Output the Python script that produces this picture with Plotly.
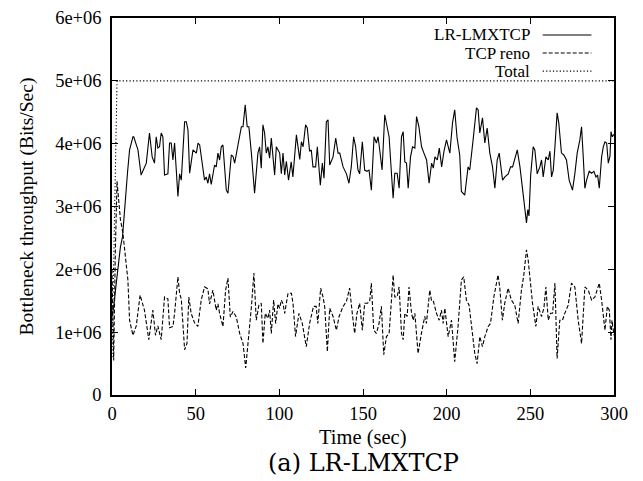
import plotly.graph_objects as go

# ---- data (throughput in units of 1e6 bits/sec) ----
lr_time = [0, 1, 2, 3, 4, 5, 6.3, 7.7, 8.4, 9.3, 10.5, 12.5, 13, 14.8, 15.5, 17.4, 19.4, 20.5, 22.4, 24,
           25.4, 26.4, 27.4, 28.4, 29.4, 30.4, 31.4, 33.4, 34.4, 35.4, 36.4, 37.4, 39.4, 40.4, 41.4, 43.4,
           44.4, 45.4, 46.4, 48.4, 50.4, 51.4, 52.4, 54.3, 55.3, 56.3, 57.3, 58.3, 59.3, 61.3, 62.3, 63.3,
           64.3, 65.3, 66.3, 68.3, 69.3, 71.3, 72.3, 73.3, 75.3, 77.3, 78.3, 79.6, 80.8, 81.8, 83.3, 85.2,
           87.2, 88.2, 89.2, 90.2, 91.2, 92.2, 93.2, 94.2, 95.2, 97.2, 98.2, 100.2, 101.2, 102.2, 103.2,
           104.2, 105.5, 107.1, 108.1, 110.2, 112.2, 113.2, 114.2, 115.7, 116.7, 118.1, 119.1, 120.1, 121.7,
           122.7, 124.5, 125.7, 126.7, 128.1, 129.1, 130.1, 132.1, 133.7, 135.1, 136.1, 138.1, 140.1, 141.6,
           143.0, 144.4, 145.6, 147.0, 148.0, 149.6, 151.0, 152.4, 153.6, 155.0, 156.6, 158.0, 159.0, 160.0,
           161.4, 163.0, 164.4, 165.6, 167.0, 168.0, 169.0, 170.4, 171.6, 173.0, 174.0, 175.0, 176.0, 177.0,
           178.4, 179.6, 181.0, 182.0, 183.4, 185.0, 186.4, 188.0, 189.5, 191.0, 192.0, 193.0, 194.4, 195.6,
           197.0, 198.4, 199.9, 201.9, 203.5, 204.8, 206.2, 207.8, 208.8, 210.8, 212.8, 213.8, 215.8, 217.8,
           218.8, 219.8, 221.4, 222.8, 224.2, 225.8, 227.4, 228.8, 230.2, 231.4, 233.4, 234.8, 236.8, 238.2,
           239.4, 240.8, 242.2, 243.8, 244.8, 245.8, 246.8, 247.7, 248.5, 249.2, 250.2, 251.7, 252.7, 254.1,
           255.7, 256.7, 257.7, 259.3, 260.7, 261.7, 262.7, 263.7, 264.7, 266.0, 267.0, 268.6, 270.0, 271.6,
           273.2, 275.2, 276.6, 278.0, 279.6, 280.6, 281.6, 282.6, 283.6, 285.2, 286.6, 288.0, 289.2, 290.2,
           291.2, 292.6, 293.6, 294.6, 295.6, 296.6, 297.6, 298.2, 299.0, 300]
lr_mbps = [1.25, 1.40, 1.65, 1.90, 2.10, 2.35, 2.52, 3.05, 3.15, 3.55, 3.90, 4.11, 4.11, 3.93, 3.90, 3.50, 3.61,
           3.69, 4.17, 3.79, 3.69, 4.11, 3.93, 3.95, 4.17, 4.11, 3.50, 3.52, 4.01, 4.01, 3.74, 4.01, 3.16, 3.52,
           3.42, 4.35, 4.35, 4.22, 3.53, 3.90, 3.85, 4.01, 3.98, 3.66, 3.42, 3.47, 3.37, 3.52, 3.35, 3.66, 3.63,
           3.85, 3.74, 3.95, 3.98, 3.26, 3.21, 3.82, 3.80, 3.69, 3.95, 4.27, 4.27, 4.62, 4.27, 4.27, 3.85, 3.21,
           3.85, 3.95, 3.61, 4.30, 4.17, 3.85, 3.95, 3.77, 4.09, 3.50, 3.95, 3.85, 3.52, 3.85, 3.50, 3.72, 3.42,
           3.71, 3.47, 4.14, 3.75, 4.03, 3.95, 4.30, 4.25, 3.88, 3.90, 3.63, 3.63, 3.95, 3.34, 3.69, 3.45, 4.35,
           4.38, 3.66, 3.79, 4.09, 3.85, 3.85, 3.63, 3.52, 3.37, 3.63, 4.11, 3.95, 3.58, 3.52, 4.03, 3.58, 3.56,
           3.58, 3.26, 4.11, 4.01, 4.11, 3.90, 3.58, 4.46, 4.27, 4.11, 3.53, 3.13, 3.53, 3.53, 3.29, 4.11, 4.19,
           3.71, 3.69, 3.29, 3.79, 3.95, 3.93, 4.43, 4.27, 3.95, 3.85, 3.74, 3.37, 3.69, 3.61, 3.79, 3.74, 3.93,
           3.63, 3.88, 4.06, 3.85, 4.33, 4.54, 4.10, 3.82, 3.24, 3.18, 3.63, 3.58, 4.06, 4.57, 4.54, 4.17, 4.41,
           4.01, 4.25, 3.85, 3.63, 3.29, 3.74, 3.85, 3.42, 3.47, 3.52, 3.63, 3.63, 3.79, 3.90, 3.63, 3.42, 3.16,
           3.00, 2.74, 2.95, 2.85, 3.50, 3.95, 3.90, 3.52, 3.63, 3.74, 3.47, 3.79, 3.74, 3.88, 3.47, 3.58, 3.95,
           4.49, 4.33, 3.85, 3.82, 3.74, 3.42, 3.26, 3.52, 3.85, 4.06, 4.27, 3.80, 3.29, 3.42, 3.56, 3.53, 3.56,
           3.47, 3.50, 3.29, 3.79, 3.95, 4.03, 4.01, 3.69, 3.80, 4.19, 4.11, 4.15]

reno_time = [0, 1, 2, 3, 4, 5, 6.5, 8.5, 9.5, 10.5, 12.5, 14.5, 16.8, 19.4, 22, 24.4, 26, 27.4, 29.4, 31.4,
             33.4, 34.4, 36.4, 37.4, 39.4, 40.4, 41.4, 43.4, 44.8, 45.9, 47.3, 49.3, 51.3, 53.3, 55.3, 57.3,
             58.3, 60.3, 62.3, 63.3, 64.3, 66.3, 67.9, 69.3, 70.7, 72.3, 74.3, 76.3, 78.3, 79.9, 81.3, 83.3,
             84.8, 86.2, 87.8, 89.2, 90.2, 91.6, 93.2, 94.2, 95.2, 96.6, 97.8, 99.2, 100.2, 101.2, 102.2, 103.2,
             105.2, 107.2, 108.2, 109.7, 111.7, 113.7, 116.1, 118.1, 120.4, 122, 123, 124.7, 126.1, 127.1,
             128.7, 130.1, 132.1, 134.1, 135.7, 138.1, 140.1, 142.0, 143.6, 145.0, 146.4, 148.0, 149.6, 151.0,
             152.6, 154.0, 155.0, 156.4, 158, 159.6, 161, 162.4, 164, 165.6, 167, 168, 169, 170.4, 171.6, 173,
             174, 175, 176.4, 177.5, 179, 180, 181, 182.9, 184.9, 186.9, 187.9, 189.9, 190.9, 191.9, 193.9,
             195.5, 196.9, 197.9, 198.9, 200.9, 202.9, 204.8, 206.8, 208.8, 210.2, 211.8, 213.4, 214.8, 216.8,
             218.2, 219.8, 221.4, 222.8, 224.8, 226.2, 228.2, 230.7, 231.7, 233.3, 234.7, 236.7, 238.7, 240.7,
             242.7, 244.7, 246.1, 247.7, 248.7, 249.7, 251.3, 253.3, 254.7, 256.7, 258.1, 259.3, 260.7, 262.1,
             263.3, 264.7, 266.0, 267.6, 269.2, 270.6, 272.6, 274.6, 276.6, 278.6, 280.6, 282.6, 284.6, 286.6,
             288.6, 291.2, 292.6, 294.6, 296.0, 297.2, 298.2, 298.8, 300]
reno_mbps = [2.00, 0.55, 2.30, 3.40, 3.10, 2.80, 2.58, 2.10, 1.83, 1.19, 0.95, 1.10, 1.59, 1.35, 0.88, 1.35, 0.95,
             1.10, 0.88, 1.56, 1.53, 1.07, 1.09, 1.30, 1.88, 1.62, 1.53, 0.72, 0.82, 1.56, 1.30, 1.15, 1.09,
             1.51, 1.72, 1.69, 1.45, 1.67, 1.35, 1.45, 1.30, 1.09, 1.67, 1.86, 1.24, 1.33, 1.24, 0.98, 0.82,
             0.43, 0.82, 1.40, 1.94, 1.19, 1.43, 1.46, 0.82, 1.30, 1.22, 1.35, 0.98, 1.51, 1.14, 1.45, 1.38,
             1.51, 1.45, 1.30, 1.62, 1.62, 1.45, 0.93, 1.30, 1.14, 0.77, 1.14, 1.41, 1.41, 1.14, 1.70, 1.56,
             1.41, 0.69, 1.38, 1.25, 1.03, 1.25, 1.41, 1.49, 1.70, 1.30, 0.98, 1.30, 1.46, 1.03, 1.46, 1.46,
             1.49, 1.78, 1.03, 0.98, 1.14, 1.41, 0.64, 0.93, 0.98, 1.51, 1.91, 1.56, 1.56, 1.72, 0.98, 0.88,
             1.30, 1.25, 1.72, 1.30, 1.19, 1.30, 0.66, 0.98, 1.25, 1.14, 1.67, 1.51, 1.51, 1.30, 1.19, 1.35,
             1.14, 1.38, 0.93, 1.19, 0.53, 1.09, 1.83, 1.88, 1.51, 1.43, 1.14, 0.66, 0.50, 0.93, 0.77, 0.93,
             1.09, 1.14, 1.56, 1.91, 1.72, 1.19, 1.46, 1.70, 1.51, 1.43, 1.14, 1.67, 1.91, 2.31, 2.15, 1.83,
             1.46, 1.09, 1.41, 1.25, 1.38, 1.72, 1.19, 1.30, 1.30, 1.78, 0.58, 1.19, 1.19, 1.30, 1.43, 1.78,
             1.72, 1.19, 0.82, 1.72, 1.67, 1.51, 1.56, 1.78, 1.51, 1.03, 1.41, 1.35, 0.88, 1.19, 0.95]

total_time = [0, 1, 2, 3, 300]
total_mbps = [0.60, 1.90, 3.50, 5.00, 5.00]

series_names = ["LR-LMXTCP", "TCP reno", "Total"]
y_tickvals = [0, 1e6, 2e6, 3e6, 4e6, 5e6, 6e6]
y_ticktext = ["0", "1e+06", "2e+06", "3e+06", "4e+06", "5e+06", "6e+06"]
x_tickvals = [0, 50, 100, 150, 200, 250, 300]

SERIF = "Liberation Serif, Times New Roman, serif"
dashes = ["solid", "4px,2px", "1.2px,2.2px"]

fig = go.Figure()
for name, t, v, d in [(series_names[0], lr_time, lr_mbps, dashes[0]),
                      (series_names[1], reno_time, reno_mbps, dashes[1]),
                      (series_names[2], total_time, total_mbps, dashes[2])]:
    fig.add_trace(go.Scatter(x=t, y=[val * 1e6 for val in v], mode="lines", name=name,
                             line=dict(color="black", width=1.1, dash=d), showlegend=False))

# custom gnuplot-style legend (text right-aligned, sample on the right)
legend_y = [0.955, 0.907, 0.859]
for name, ly, d in zip(series_names, legend_y, dashes):
    fig.add_annotation(x=0.835, y=ly, xref="paper", yref="paper", text=name, showarrow=False,
                       xanchor="right", yanchor="middle", borderpad=0,
                       font=dict(family=SERIF, size=17, color="black"))
    fig.add_shape(type="line", xref="paper", yref="paper", x0=0.858, x1=0.955, y0=ly, y1=ly,
                  line=dict(color="black", width=1.1, dash=d))

# x axis title and caption
fig.add_annotation(x=0.5, y=-0.112, xref="paper", yref="paper", text="Time (sec)", showarrow=False,
                   xanchor="center", yanchor="middle", borderpad=0,
                   font=dict(family=SERIF, size=20.5, color="black"))
fig.add_annotation(x=0.5, y=-0.18, xref="paper", yref="paper", text="(a) LR-LMXTCP", showarrow=False,
                   xanchor="center", yanchor="middle", borderpad=0,
                   font=dict(family="DejaVu Serif, serif", size=24, color="black"))

axis_common = dict(showline=True, linecolor="black", linewidth=1.5, mirror="ticks", ticks="inside",
                   ticklen=6, tickwidth=1, tickcolor="black", showgrid=False, zeroline=False,
                   tickfont=dict(family=SERIF, size=18.5, color="black"))

fig.update_xaxes(range=[0, 300], tickvals=x_tickvals, ticklabelstandoff=1, **axis_common)
fig.update_yaxes(range=[0, 6e6], tickvals=y_tickvals, ticktext=y_ticktext, ticklabelstandoff=5,
                 title=dict(text="Bottleneck throughput (Bits/Sec)",
                            font=dict(family=SERIF, size=19.5, color="black"), standoff=16),
                 **axis_common)

fig.update_layout(width=643, height=481, margin=dict(l=112, r=29, t=18, b=86, autoexpand=False),
                  plot_bgcolor="white", paper_bgcolor="white", showlegend=False)

fig.write_html("out.html", config={"displayModeBar": False},
               post_script="document.body.style.margin='0px';document.body.style.overflow='hidden';")
